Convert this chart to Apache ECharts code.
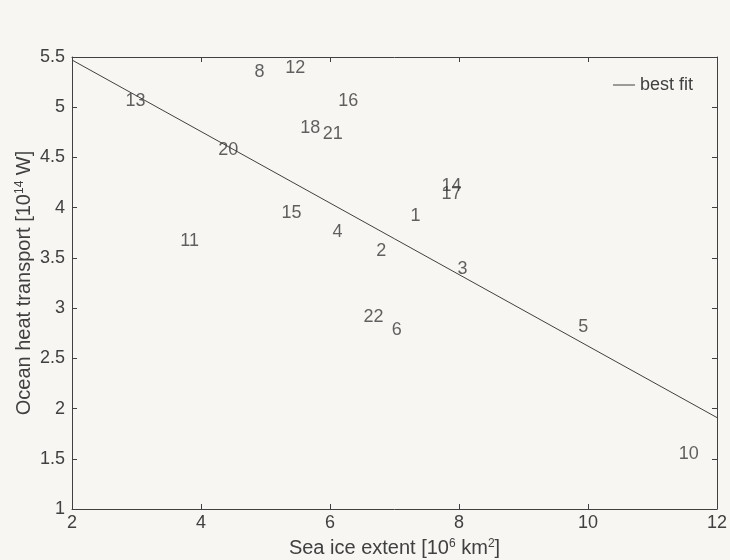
<!DOCTYPE html>
<html>
<head>
<meta charset="utf-8">
<script src="https://cdn.jsdelivr.net/npm/echarts@6/dist/echarts.min.js"></script>
<style>
html,body{margin:0;padding:0;background:#f7f6f2;}
#main{width:730px;height:560px;}
</style>
</head>
<body>
<div id="main"></div>
<script>
// Data
const labels = ['13','8','12','16','18','21','20','14','17','1','15','11','4','2','3','22','6','5','10'];
const xValues = [2.82,4.82,5.30,6.12,5.53,5.88,4.26,7.72,7.72,7.24,5.24,3.67,6.03,6.71,7.97,6.51,6.95,9.84,11.40];
const yValues = [5.06,5.35,5.39,5.06,4.79,4.73,4.57,4.22,4.14,3.92,3.95,3.67,3.76,3.57,3.39,2.91,2.78,2.81,1.55];
const fitX = [2, 12];
const fitY = [5.47, 1.91];
const xTicks = [2,4,6,8,10,12];
const yTicks = [1,1.5,2,2.5,3,3.5,4,4.5,5,5.5];

const ink = '#404040';
const font = 'Liberation Sans, Arial, sans-serif';
const chart = echarts.init(document.getElementById('main'));

const pts = labels.map((l,i)=>({value:[xValues[i], yValues[i]], name:l}));
const fitData = fitX.map((x,i)=>[x, fitY[i]]);

const axisCommon = {
  axisLine:{show:true, lineStyle:{color:ink, width:1}},
  axisTick:{show:true, inside:true, length:5, lineStyle:{color:ink}},
  splitLine:{show:false}
};
const supRich = {sup:{fontSize:12, color:ink, fontFamily:font, padding:[0,0,9,0]}};

chart.setOption({
  backgroundColor:'#f7f6f2',
  animation:false,
  grid:{left:72, right:13, top:57, bottom:51, containLabel:false, outerBoundsMode:'none'},
  legend:{
    data:[{name:'best fit', icon:'rect'}], right:32, top:71,
    itemWidth:22, itemHeight:1, itemGap:6,
    textStyle:{color:ink, fontSize:18, fontFamily:font}
  },
  xAxis:[
    Object.assign({type:'value', min:2, max:12, interval:2, position:'bottom',
      name:'Sea ice extent [10{sup|6} km{sup|2}]', nameLocation:'middle', nameGap:29,
      nameMoveOverlap:false,
      nameTextStyle:{color:ink, fontSize:20, fontFamily:font, rich:supRich},
      axisLabel:{color:ink, fontSize:18, fontFamily:font, margin:5,
        formatter:v=>xTicks.includes(v)?String(v):''}}, axisCommon),
    Object.assign({type:'value', min:2, max:12, interval:2, position:'top',
      axisLabel:{show:false}}, axisCommon)
  ],
  yAxis:[
    Object.assign({type:'value', min:1, max:5.5, interval:0.5, position:'left',
      name:'Ocean heat transport [10{sup|14} W]', nameLocation:'middle', nameGap:37,
      nameMoveOverlap:false,
      nameTextStyle:{color:ink, fontSize:20, fontFamily:font, rich:supRich},
      axisLabel:{color:ink, fontSize:18, fontFamily:font, margin:7,
        formatter:v=>yTicks.includes(v)?String(v):''}}, axisCommon),
    Object.assign({type:'value', min:1, max:5.5, interval:0.5, position:'right',
      axisLabel:{show:false}}, axisCommon)
  ],
  series:[
    {
      name:'best fit', type:'line', data:fitData, symbol:'none',
      lineStyle:{color:ink, width:1}, itemStyle:{color:ink}, z:2
    },
    {
      name:'runs', type:'scatter', data:pts, symbolSize:1,
      itemStyle:{color:'rgba(0,0,0,0)'},
      label:{show:true, position:'right', distance:0, formatter:p=>p.name,
        color:'#3a3a3a', fontSize:18, fontFamily:font},
      emphasis:{disabled:true},
      z:3
    }
  ]
});
</script>
</body>
</html>
